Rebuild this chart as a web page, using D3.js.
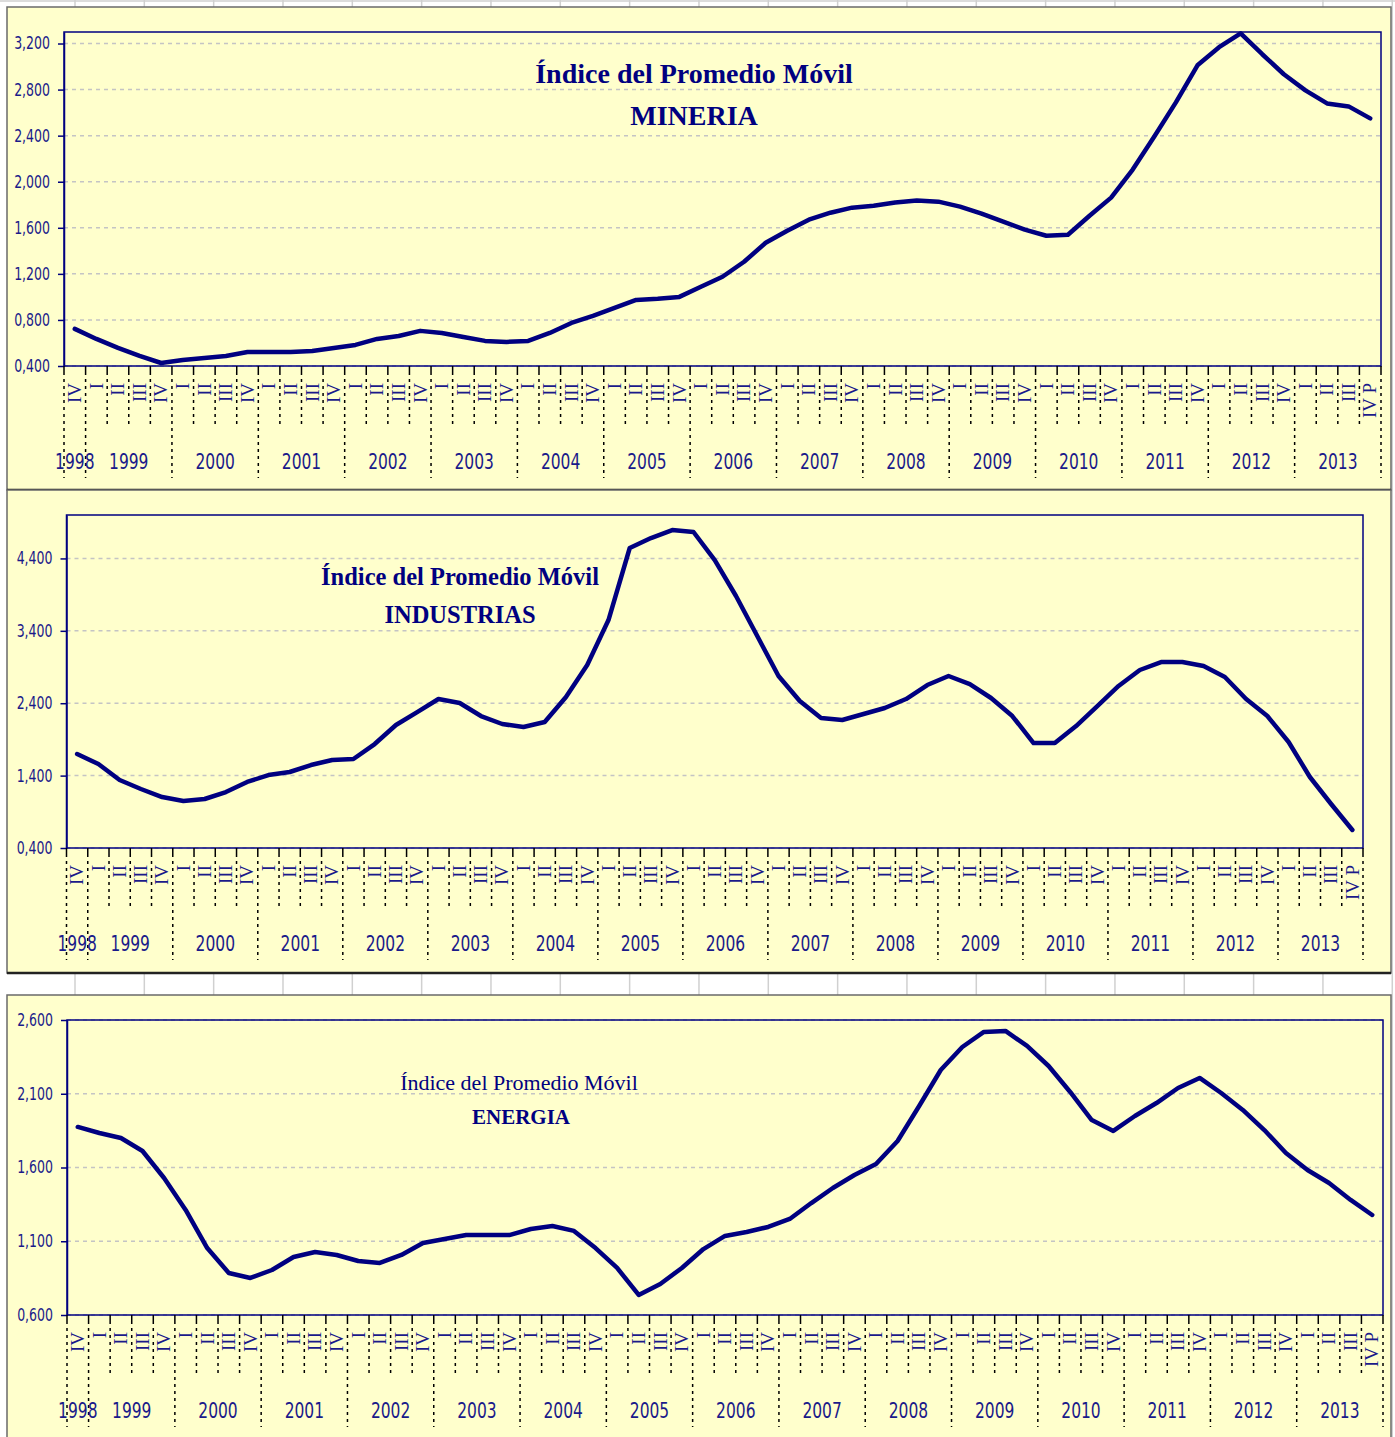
<!DOCTYPE html>
<html>
<head>
<meta charset="utf-8">
<script src="https://cdn.jsdelivr.net/npm/d3@7"></script>
<style>
  body { margin: 0; background: #fff; }
  svg { display: block; }
</style>
</head>
<body>
<div id="chart"></div>
<script>
// periods: first part is the year, the rest is the quarter label
var periods = [
  "1998 IV",
  "1999 I", "1999 II", "1999 III", "1999 IV",
  "2000 I", "2000 II", "2000 III", "2000 IV",
  "2001 I", "2001 II", "2001 III", "2001 IV",
  "2002 I", "2002 II", "2002 III", "2002 IV",
  "2003 I", "2003 II", "2003 III", "2003 IV",
  "2004 I", "2004 II", "2004 III", "2004 IV",
  "2005 I", "2005 II", "2005 III", "2005 IV",
  "2006 I", "2006 II", "2006 III", "2006 IV",
  "2007 I", "2007 II", "2007 III", "2007 IV",
  "2008 I", "2008 II", "2008 III", "2008 IV",
  "2009 I", "2009 II", "2009 III", "2009 IV",
  "2010 I", "2010 II", "2010 III", "2010 IV",
  "2011 I", "2011 II", "2011 III", "2011 IV",
  "2012 I", "2012 II", "2012 III", "2012 IV",
  "2013 I", "2013 II", "2013 III", "2013 IV P"
];
var years = ["1998", "1999", "2000", "2001", "2002", "2003", "2004", "2005",
  "2006", "2007", "2008", "2009", "2010", "2011", "2012", "2013"];

var mineria = [
  722,
  635, 557, 487, 426,
  452, 470, 487, 522,
  522, 522, 531, 557,
  583, 635, 661, 705,
  687, 652, 618, 609,
  618, 687, 774, 835,
  905, 974, 983, 1000,
  1088, 1175, 1305, 1470,
  1575, 1670, 1731, 1775,
  1792, 1819, 1836, 1827,
  1784, 1723, 1653, 1584,
  1531, 1540, 1705, 1862,
  2106, 2393, 2689, 3011,
  3168, 3289, 3107, 2933,
  2793, 2680, 2654, 2550
];
var industrias = [
  1698,
  1560, 1339, 1215, 1104,
  1049, 1077, 1173, 1312,
  1408, 1450, 1546, 1615,
  1629, 1836, 2099, 2278,
  2458, 2403, 2223, 2113,
  2071, 2140, 2486, 2928,
  3549, 4544, 4682, 4792,
  4765, 4378, 3881, 3328,
  2776, 2430, 2196, 2168,
  2251, 2334, 2458, 2651,
  2776, 2665, 2472, 2223,
  1850, 1850, 2085, 2361,
  2638, 2859, 2969, 2969,
  2914, 2762, 2458, 2223,
  1864, 1381, 1008, 649
];
var energia = [
  1875,
  1834, 1800, 1712, 1529,
  1312, 1054, 885, 851,
  905, 993, 1027, 1007,
  966, 953, 1007, 1088,
  1115, 1142, 1142, 1142,
  1183, 1203, 1170, 1054,
  919, 736, 810, 919,
  1047, 1136, 1163, 1197,
  1251, 1359, 1461, 1549,
  1624, 1780, 2017, 2261,
  2417, 2519, 2526, 2424,
  2288, 2112, 1922, 1848,
  1949, 2037, 2139, 2207,
  2105, 1990, 1854, 1698,
  1583, 1495, 1380, 1278
];

var mineriaTicks = [400, 800, 1200, 1600, 2000, 2400, 2800, 3200];
var mineriaTickLabels = ["0,400", "0,800", "1,200", "1,600", "2,000", "2,400", "2,800", "3,200"];
var mineriaDomain = [400, 3300];

var industriasTicks = [400, 1400, 2400, 3400, 4400];
var industriasTickLabels = ["0,400", "1,400", "2,400", "3,400", "4,400"];
var industriasDomain = [400, 5000];

var energiaTicks = [600, 1100, 1600, 2100, 2600];
var energiaTickLabels = ["0,600", "1,100", "1,600", "2,100", "2,600"];
var energiaDomain = [600, 2600];

var width = 1395, height = 1437;
var navy = "#000080", textBlue = "#1a1a8a";
var sansNarrow = "'Liberation Sans Narrow', 'DejaVu Sans Condensed', 'Arial Narrow', sans-serif";
var serif = "'Liberation Serif', 'Times New Roman', serif";
var squeeze = 0.82; // horizontal squeeze for the narrow axis font

var svg = d3.select("#chart")
  .append("svg")
  .attr("width", width)
  .attr("height", height);

// spreadsheet behind the charts
svg.append("rect").attr("width", width).attr("height", height).attr("fill", "#fff");
var sheet = svg.append("g");
sheet.selectAll("line.col")
  .data(d3.range(75, width, 69.33))
  .enter().append("line")
  .attr("x1", function(d){ return d; }).attr("x2", function(d){ return d; })
  .attr("y1", 0).attr("y2", height)
  .attr("stroke", "#d0d0d0").attr("stroke-width", 1.5);
sheet.append("line").attr("x1", 0).attr("x2", width).attr("y1", 1).attr("y2", 1)
  .attr("stroke", "#d0d0d0").attr("stroke-width", 1.5);

var charts = [
  { values: mineria, ticks: mineriaTicks, tickLabels: mineriaTickLabels, domain: mineriaDomain,
    panel: [7, 490], plot: { l: 64, t: 32, r: 1381, b: 366 },
    titles: [
      { text: "Índice del Promedio Móvil", x: 694, y: 83, size: 28, weight: "bold" },
      { text: "MINERIA", x: 694, y: 125, size: 28, weight: "bold" }
    ] },
  { values: industrias, ticks: industriasTicks, tickLabels: industriasTickLabels, domain: industriasDomain,
    panel: [490, 973], plot: { l: 66.5, t: 515, r: 1363, b: 848 },
    titles: [
      { text: "Índice del Promedio Móvil", x: 460, y: 585, size: 24.5, weight: "bold" },
      { text: "INDUSTRIAS", x: 460, y: 623, size: 24.5, weight: "bold" }
    ] },
  { values: energia, ticks: energiaTicks, tickLabels: energiaTickLabels, domain: energiaDomain,
    panel: [995, 1450], plot: { l: 67, t: 1020, r: 1383, b: 1315 },
    titles: [
      { text: "Índice del Promedio Móvil", x: 519, y: 1090, size: 22, weight: "normal" },
      { text: "ENERGIA", x: 521, y: 1124, size: 21, weight: "bold" }
    ] }
];

charts.forEach(function(c) {
  var p = c.plot;

  // panel
  svg.append("rect")
    .attr("x", 7).attr("y", c.panel[0])
    .attr("width", 1384).attr("height", c.panel[1] - c.panel[0])
    .attr("fill", "#ffffcc")
    .attr("stroke", "#6a6a6a").attr("stroke-width", 1.5);
  svg.append("line")
    .attr("x1", 7).attr("x2", 1391).attr("y1", c.panel[1]).attr("y2", c.panel[1])
    .attr("stroke", "#222").attr("stroke-width", 2.5);

  var x = d3.scaleBand().domain(periods).range([p.l, p.r]);
  var y = d3.scaleLinear().domain(c.domain).range([p.b, p.t]);
  var bw = x.bandwidth();

  var g = svg.append("g");

  // gridlines
  g.selectAll("line.grid")
    .data(c.ticks)
    .enter().append("line")
    .attr("class", "grid")
    .attr("x1", p.l).attr("x2", p.r)
    .attr("y1", function(d){ return y(d); })
    .attr("y2", function(d){ return y(d); })
    .attr("stroke", "#c4c4c4").attr("stroke-width", 1.5)
    .attr("stroke-dasharray", "4,4");

  // plot border
  g.append("rect")
    .attr("x", p.l).attr("y", p.t)
    .attr("width", p.r - p.l).attr("height", p.b - p.t)
    .attr("fill", "none").attr("stroke", navy).attr("stroke-width", 1.5);

  // y axis
  var yAxis = g.append("g")
    .attr("transform", "translate(" + p.l + ",0)")
    .call(d3.axisLeft(y)
      .tickValues(c.ticks)
      .tickSize(6)
      .tickSizeOuter(0)
      .tickPadding(8)
      .tickFormat(function(d, i){ return c.tickLabels[i]; }));
  yAxis.select(".domain").attr("stroke", navy).attr("stroke-width", 1.5);
  yAxis.selectAll(".tick line").attr("stroke", navy).attr("stroke-width", 1.5);
  yAxis.selectAll("text")
    .attr("x", -14 / squeeze)
    .attr("transform", "scale(" + squeeze + ",1)")
    .attr("fill", textBlue)
    .style("font-family", sansNarrow)
    .style("font-size", "17px");

  // x axis, quarter labels rotated
  var xAxis = g.append("g")
    .attr("transform", "translate(0," + p.b + ")")
    .call(d3.axisBottom(x)
      .tickSize(0)
      .tickFormat(function(d){ return d.split(" ").slice(1).join(" "); }));
  xAxis.select(".domain").remove();
  xAxis.selectAll("text")
    .attr("transform", "rotate(-90)")
    .attr("x", -17).attr("y", 0).attr("dy", "0.33em")
    .style("text-anchor", "end")
    .attr("fill", textBlue)
    .style("font-family", serif)
    .style("font-size", "19px");

  // boundaries between quarters (long at year changes)
  var bounds = periods.map(function(d, i) {
    return { x: x(d), year: i === 0 || d.split(" ")[1] === "I" };
  });
  bounds.push({ x: x(periods[periods.length - 1]) + bw, year: true });

  g.selectAll("line.qtick")
    .data(bounds)
    .enter().append("line")
    .attr("x1", function(d){ return d.x; }).attr("x2", function(d){ return d.x; })
    .attr("y1", p.b).attr("y2", p.b + 6)
    .attr("stroke", "#000").attr("stroke-width", 1.5);
  g.selectAll("line.qdash")
    .data(bounds)
    .enter().append("line")
    .attr("x1", function(d){ return d.x; }).attr("x2", function(d){ return d.x; })
    .attr("y1", p.b + 6)
    .attr("y2", function(d){ return p.b + (d.year ? 112 : 59); })
    .attr("stroke", "#000").attr("stroke-width", 1.5)
    .attr("stroke-dasharray", "3,4");

  // year labels centred on their quarters
  g.selectAll("text.year")
    .data(years)
    .enter().append("text")
    .attr("transform", function(yr) {
      var qs = periods.filter(function(d){ return d.split(" ")[0] === yr; });
      var cx = (x(qs[0]) + x(qs[qs.length - 1]) + bw) / 2;
      return "translate(" + cx + "," + (p.b + 103) + ") scale(" + squeeze + ",1)";
    })
    .attr("text-anchor", "middle")
    .attr("fill", textBlue)
    .style("font-family", sansNarrow)
    .style("font-size", "21px")
    .text(function(d){ return d; });

  // the series
  var line = d3.line()
    .x(function(d, i){ return x(periods[i]) + bw / 2; })
    .y(function(d){ return y(d); });
  g.append("path")
    .datum(c.values)
    .attr("d", line)
    .attr("fill", "none")
    .attr("stroke", navy)
    .attr("stroke-width", 4.5)
    .attr("stroke-linejoin", "round")
    .attr("stroke-linecap", "round");

  // titles
  g.selectAll("text.title")
    .data(c.titles)
    .enter().append("text")
    .attr("x", function(d){ return d.x; })
    .attr("y", function(d){ return d.y; })
    .attr("text-anchor", "middle")
    .attr("fill", navy)
    .style("font-family", serif)
    .style("font-weight", function(d){ return d.weight; })
    .style("font-size", function(d){ return d.size + "px"; })
    .text(function(d){ return d.text; });
});
</script>
</body>
</html>
